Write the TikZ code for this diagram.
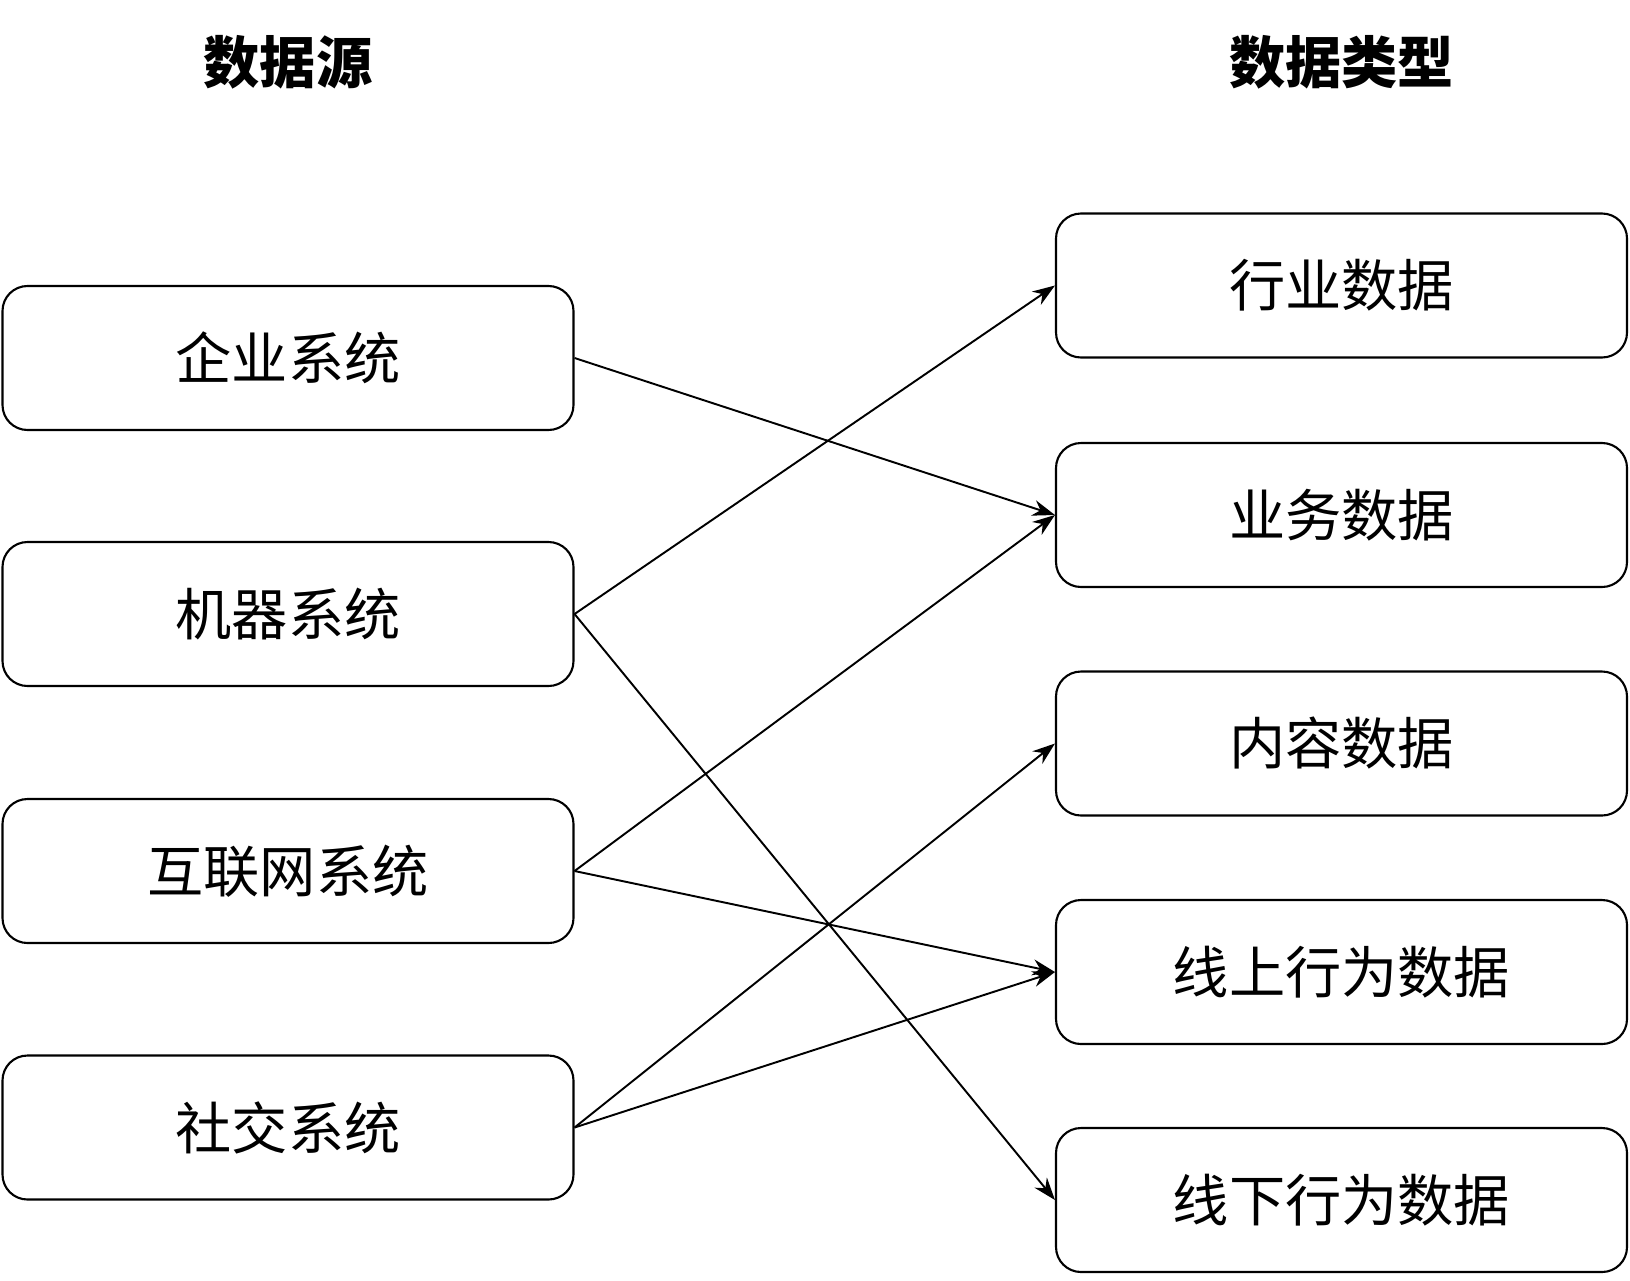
\documentclass[tikz,border=0pt]{standalone}
\usepackage{fontspec}
\setmainfont{Noto Sans CJK SC}
\usetikzlibrary{arrows.meta}
\tikzset{
  box/.style={draw, line width=1.2pt, rounded corners=0.5cm, minimum width=11.42cm, minimum height=2.88cm, font=\fontsize{32}{36}\selectfont},
  title/.style={font=\fontsize{32}{36}\selectfont\bfseries},
  every edge/.style={draw, line width=1.1pt, -{Stealth[length=4.5mm,width=3.2mm]}}
}
\begin{document}
\begin{tikzpicture}
    \path[use as bounding box] (0, 0) rectangle (32.6, -25.6);

    \node[title] at (5.76, -1.24) (tsrc) {数据源};
    \node[title] at (26.83, -1.24) (ttype) {数据类型};

    \node[box] at (5.76, -7.16) (ent) {企业系统};
    \node[box] at (5.76, -12.28) (mach) {机器系统};
    \node[box] at (5.76, -17.42) (web) {互联网系统};
    \node[box] at (5.76, -22.55) (soc) {社交系统};

    \node[box] at (26.83, -5.71) (ind) {行业数据};
    \node[box] at (26.83, -10.30) (biz) {业务数据};
    \node[box] at (26.83, -14.87) (cont) {内容数据};
    \node[box] at (26.83, -19.44) (on) {线上行为数据};
    \node[box] at (26.83, -24.00) (off) {线下行为数据};

    \draw (ent.east) edge (biz.west);
    \draw (mach.east) edge (ind.west);
    \draw (mach.east) edge (off.west);
    \draw (web.east) edge (biz.west);
    \draw (web.east) edge (on.west);
    \draw (soc.east) edge (cont.west);
    \draw (soc.east) edge (on.west);
\end{tikzpicture}
\end{document}
